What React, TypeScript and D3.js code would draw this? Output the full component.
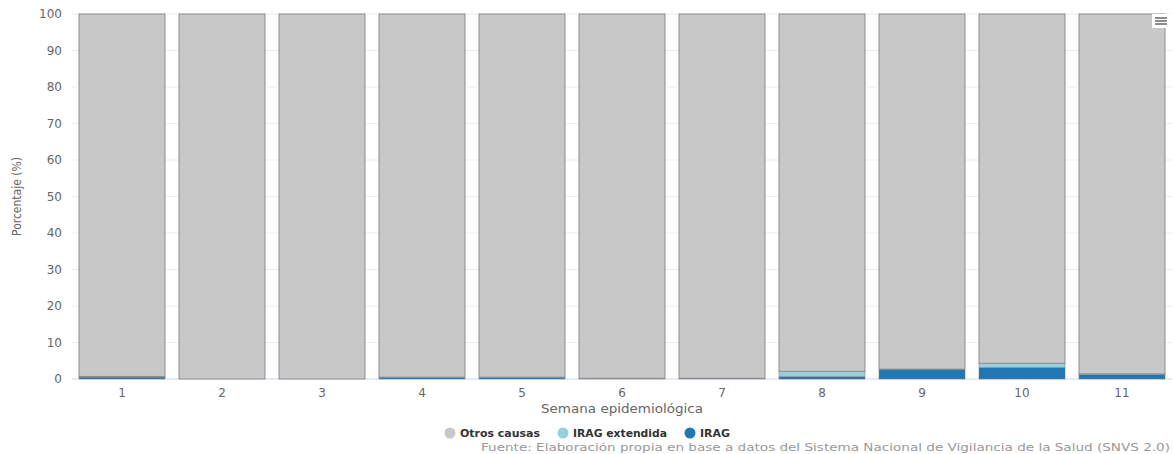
import React from "react";
import * as d3 from "d3";

const weeks = ["1", "2", "3", "4", "5", "6", "7", "8", "9", "10", "11"];
const irag = [0.5, 0, 0, 0.5, 0.5, 0, 0.2, 0.6, 2.7, 3.1, 1.2];
const iragExt = [0.2, 0, 0, 0, 0, 0.2, 0, 1.5, 0, 1.2, 0.2];
const otros = weeks.map((_, i) => 100 - irag[i] - iragExt[i]);
const yTicks = [0, 10, 20, 30, 40, 50, 60, 70, 80, 90, 100];

const seriesNames = ["IRAG", "IRAG extendida", "Otros causas"];
const colors = ["#2177b4", "#96d0dc", "#c8c8c8"];

const W = 1174;
const H = 454;
const M = { left: 72, right: 2, top: 14, bottom: 75 };

export default function App() {
  const x = d3
    .scaleBand<string>()
    .domain(weeks)
    .range([M.left, W - M.right])
    .paddingInner(0.14)
    .paddingOuter(0.07);
  const y = d3.scaleLinear().domain([0, 100]).range([H - M.bottom, M.top]);

  const rows = weeks.map((w, i) => ({ week: w, s0: irag[i], s1: iragExt[i], s2: otros[i] }));
  const stack = d3.stack<any>().keys(["s0", "s1", "s2"]);
  const layers = stack(rows);

  const font = "'Verdana', 'DejaVu Sans', sans-serif";

  const legendItems = [
    { idx: 2, label: seriesNames[2], x: 444, tl: 80 },
    { idx: 1, label: seriesNames[1], x: 557, tl: 94 },
    { idx: 0, label: seriesNames[0], x: 684, tl: 30 },
  ];

  return (
    <svg width={W} height={H} style={{ position: "absolute", left: 0, top: 0, background: "#fff" }}>
      {yTicks.map((t) => (
        <g key={t}>
          <line x1={M.left} x2={W - M.right} y1={y(t)} y2={y(t)} stroke={t === 0 ? "#ccd6eb" : "#ececec"} strokeWidth={1} />
          <text x={62} y={y(t) + 4} textAnchor="end" fontFamily={font} fontSize={12} fill="#666">
            {t}
          </text>
        </g>
      ))}
      {layers.map((layer, li) =>
        layer.map((d, i) => {
          const h = y(d[0]) - y(d[1]);
          if (h <= 0) return null;
          return (
            <rect
              key={`${li}-${i}`}
              x={x(weeks[i])!}
              y={y(d[1])}
              width={x.bandwidth()}
              height={h}
              fill={colors[li]}
              stroke={li === 2 ? "#8e8e8e" : "#777"}
              strokeWidth={li === 2 ? 1 : 0.5}
            />
          );
        })
      )}
      {weeks.map((w) => (
        <text key={w} x={x(w)! + x.bandwidth() / 2} y={H - M.bottom + 18} textAnchor="middle" fontFamily={font} fontSize={12} fill="#666">
          {w}
        </text>
      ))}
      <text x={541} y={413} fontFamily={font} fontSize={12} fill="#666" textLength={162} lengthAdjust="spacingAndGlyphs">
        Semana epidemiológica
      </text>
      <text
        transform={`translate(21, ${(M.top + H - M.bottom) / 2}) rotate(-90)`}
        textAnchor="middle"
        fontFamily="'Liberation Sans Narrow', 'DejaVu Sans Condensed', sans-serif"
        fontSize={12}
        fill="#666"
      >
        Porcentaje (%)
      </text>
      {legendItems.map((it) => (
        <g key={it.label}>
          <circle cx={it.x + 6} cy={433} r={5.5} fill={colors[it.idx]} />
          <text x={it.x + 16} y={437} fontFamily={font} fontSize={11} fontWeight="bold" fill="#333" textLength={it.tl} lengthAdjust="spacingAndGlyphs">
            {it.label}
          </text>
        </g>
      ))}
      <text x={1170} y={451} textAnchor="end" fontFamily={font} fontSize={11} fill="#999" textLength={689} lengthAdjust="spacingAndGlyphs">
        Fuente: Elaboración propia en base a datos del Sistema Nacional de Vigilancia de la Salud (SNVS 2.0)
      </text>
      <g>
        <rect x={1152} y={14} width={20} height={14} fill="#fff" />
        {[0, 1, 2].map((k) => (
          <line key={k} x1={1155} x2={1167} y1={18 + k * 3} y2={18 + k * 3} stroke="#666" strokeWidth={1.5} />
        ))}
      </g>
    </svg>
  );
}
